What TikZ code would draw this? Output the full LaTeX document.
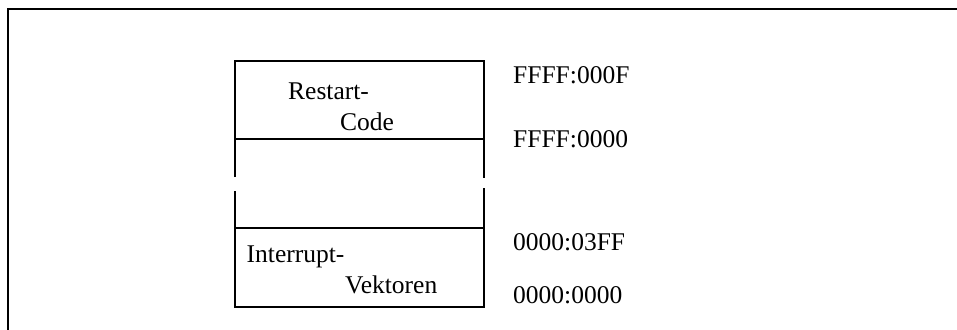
\documentclass[tikz,border=0pt]{standalone}
\usepackage{fontspec}
\setmainfont{Liberation Serif}
\begin{document}
\begin{tikzpicture}[x=1pt,y=-1pt,
  frameline/.style={line width=2.8pt},
  boxline/.style={line width=2pt},
  label/.style={anchor=base west,inner sep=0pt,font=\fontsize{25.5}{30}\selectfont}]
\useasboundingbox (0,0) rectangle (957,329);
% outer frame (top and left edge)
\draw[frameline] (8,331) -- (8,9) -- (959,9);
% memory map column, broken in the middle
\draw[boxline] (235,177) -- (235,61) -- (484,61) -- (484,178);
\draw[boxline] (235,139) -- (484,139);
\draw[boxline] (235,191) -- (235,307) -- (484,307) -- (484,188);
\draw[boxline] (235,228) -- (484,228);
% region labels
\node[label] (restart) at (288,99.5) {Restart-};
\node[label] (code) at (340,130) {Code};
\node[label] (interrupt) at (246.5,262) {Interrupt-};
\node[label] (vektoren) at (345,293) {Vektoren};
% addresses
\node[label] (a1) at (513,83.5) {FFFF:000F};
\node[label] (a2) at (513,147) {FFFF:0000};
\node[label] (a3) at (513,250) {0000:03FF};
\node[label] (a4) at (513,303.5) {0000:0000};
\end{tikzpicture}
\end{document}
